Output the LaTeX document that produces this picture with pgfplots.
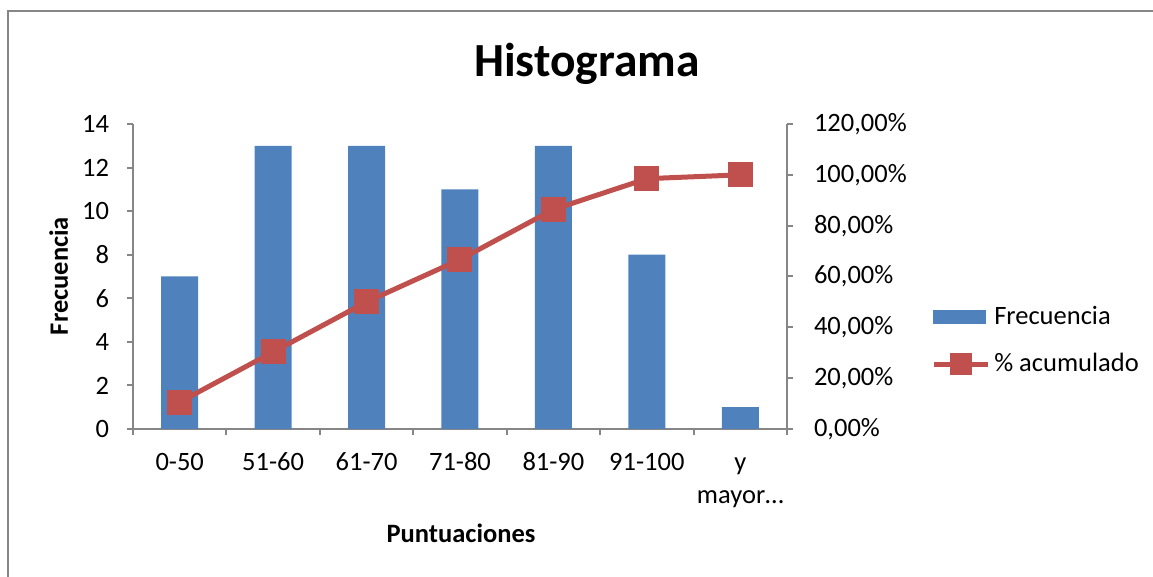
\documentclass[border=0pt]{standalone}
\usepackage{pgfplots}
\pgfplotsset{compat=1.18}
\usepackage{fontspec}
\setmainfont{Carlito}
\definecolor{barblue}{HTML}{4F81BD}
\definecolor{linered}{HTML}{C0504D}
\definecolor{axgray}{HTML}{868686}
\pgfplotsset{
  redleg/.style={legend image code/.code={\draw[mark repeat=2,mark phase=2,##1, mark size=4.25pt] plot coordinates {(0pt,0pt)(13.5pt,0pt)(27pt,0pt)};}},
  common/.style={
    at={(66.5pt,74pt)}, anchor=south west,
    scale only axis, width=327pt, height=152.5pt,
    xmin=-0.5, xmax=6.5,
    axis line style={axgray, line width=1pt},
    tick align=outside,
    major tick length=3pt, minor tick length=3pt,
    tick style={axgray, line width=1pt},
    font=\fontsize{13.25}{18}\selectfont,
    /pgf/number format/assume math mode=true,
  }
}
\begin{document}
\begin{tikzpicture}[x=0.5pt,y=0.5pt]
\useasboundingbox (0,0) rectangle (1153,577);
\draw[axgray, line width=1pt] (8,-20) -- (8,566) -- (1180,566);
\begin{axis}[common,
  ymin=0, ymax=14,
  axis x line*=bottom, axis y line*=left,
  ytick={0,2,4,6,8,10,12,14},
  yticklabel style={xshift=-5.5pt},
  xtick={0,1,2,3,4,5,6},
  xticklabels={{0-50\\\strut},{51-60\\\strut},{61-70\\\strut},{71-80\\\strut},{81-90\\\strut},{91-100\\\strut},{y\\mayor\ldots}},
  major x tick style={draw=none},
  minor xtick={-0.5,0.5,1.5,2.5,3.5,4.5,5.5,6.5},
  xticklabel style={align=center, anchor=base, yshift=-34.5pt, font=\fontsize{13.25}{16.5}\selectfont},
]
\addplot[ybar, bar width=18.5pt, fill=barblue, draw=none] coordinates {(0,7)(1,13)(2,13)(3,11)(4,13)(5,8)(6,1)};
\end{axis}
\begin{axis}[common,
  ymin=0, ymax=1.2,
  axis y line*=right, axis x line=none,
  ytick={0,0.2,0.4,0.6,0.8,1.0,1.2},
  yticklabel style={xshift=7pt},
  yticklabels={{0,00\%},{20,00\%},{40,00\%},{60,00\%},{80,00\%},{100,00\%},{120,00\%}},
  legend style={draw=none, fill=none, at={(1.22,0.29)}, anchor=west,
    row sep=9pt, inner sep=0pt, font=\fontsize{13.25}{16}\selectfont},
  legend cell align=left,
]
\addlegendimage{legend image code/.code={\fill[barblue] (0pt,-3.25pt) rectangle (26pt,3.25pt);}}
\addlegendentry{Frecuencia}
\addplot[linered, line width=2.5pt, mark=square*, mark size=5pt,
  mark options={solid, fill=linered}, redleg]
  coordinates {(0,0.1061)(1,0.3030)(2,0.5)(3,0.6667)(4,0.8636)(5,0.9848)(6,1.0)};
\addlegendentry{\% acumulado}
\end{axis}
\node[font=\fontsize{23.75}{28}\selectfont\bfseries, anchor=base] at (587,500) {Histograma};
\node[font=\fontsize{13.25}{16}\selectfont\bfseries, anchor=base] at (461,34) {Puntuaciones};
\node[font=\fontsize{13.25}{16}\selectfont\bfseries, rotate=90, anchor=base] at (68,301) {Frecuencia};
\end{tikzpicture}
\end{document}
